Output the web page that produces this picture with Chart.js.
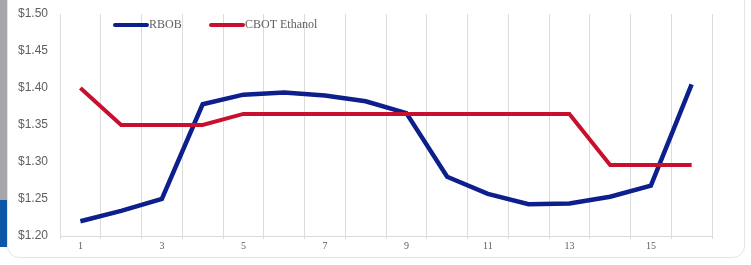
<!DOCTYPE html>
<html>
<head>
<meta charset="utf-8">
<script src="https://cdn.jsdelivr.net/npm/chart.js@4.4.1/dist/chart.umd.min.js"></script>
<style>
  html, body { margin: 0; padding: 0; background: #ffffff; }
  #wrap { position: relative; width: 751px; height: 265px; overflow: hidden; background: #ffffff; }
  .bar-grey { position: absolute; left: 0; top: 0; width: 7px; height: 200px; background: #a7a7ab; }
  .bar-blue { position: absolute; left: 0; top: 200px; width: 7px; height: 47px; background: #0b57a8; }
  .card { position: absolute; left: 7px; top: -20px; width: 738px; height: 278px; background: #fff;
          border: 1px solid #e4e4e4; border-radius: 12px; box-sizing: border-box; }
  canvas { position: absolute; left: 0; top: 0; }
</style>
</head>
<body>
<div id="wrap">
  <div class="bar-grey"></div>
  <div class="bar-blue"></div>
  <div class="card"></div>
  <canvas id="grafico" width="751" height="265"></canvas>
</div>
<script>
// ===== Datos =====
const semanas = ['1','2','3','4','5','6','7','8','9','10','11','12','13','14','15','16'];
const rbob    = [1.220, 1.234, 1.250, 1.378, 1.391, 1.394, 1.390, 1.382, 1.366, 1.280, 1.257, 1.243, 1.244, 1.253, 1.268, 1.405];
const etanol  = [1.400, 1.350, 1.350, 1.350, 1.365, 1.365, 1.365, 1.365, 1.365, 1.365, 1.365, 1.365, 1.365, 1.296, 1.296, 1.296];

const colorRbob = '#0c1f8c';
const colorEtanol = '#c8102e';

// leyenda dentro del area del grafico
const leyendaInterna = {
    id: 'leyendaInterna',
    afterDraw(chart) {
        const ctx = chart.ctx;
        const area = chart.chartArea;
        const items = [
            { texto: 'RBOB', color: colorRbob, x: 55 },
            { texto: 'CBOT Ethanol', color: colorEtanol, x: 151 }
        ];
        const y = area.top + 11;
        ctx.save();
        ctx.font = '12px "Liberation Serif"';
        ctx.textBaseline = 'middle';
        items.forEach(it => {
            ctx.strokeStyle = it.color;
            ctx.lineWidth = 4;
            ctx.lineCap = 'round';
            ctx.beginPath();
            ctx.moveTo(area.left + it.x, y);
            ctx.lineTo(area.left + it.x + 32, y);
            ctx.stroke();
            ctx.fillStyle = '#5f5f5f';
            ctx.fillText(it.texto, area.left + it.x + 34, y);
        });
        ctx.restore();
    }
};

new Chart(document.getElementById('grafico').getContext('2d'), {
    type: 'line',
    data: {
        labels: semanas,
        datasets: [
            {
                label: 'RBOB',
                data: rbob,
                borderColor: colorRbob,
                backgroundColor: colorRbob,
                borderWidth: 4.5,
                pointRadius: 0,
                tension: 0,
                order: 2
            },
            {
                label: 'CBOT Ethanol',
                data: etanol,
                borderColor: colorEtanol,
                backgroundColor: colorEtanol,
                borderWidth: 4,
                pointRadius: 0,
                tension: 0,
                order: 1
            }
        ]
    },
    options: {
        responsive: false,
        animation: false,
        layout: { autoPadding: false, padding: { top: 14, right: 39, left: 0, bottom: 0 } },
        plugins: {
            legend: { display: false },
            tooltip: { enabled: false }
        },
        scales: {
            x: {
                offset: true,
                afterFit: scale => { scale.height = 29; },
                grid: {
                    offset: true,
                    color: '#dcdcdc',
                    lineWidth: 1,
                    tickLength: 3
                },
                border: { color: '#dcdcdc' },
                ticks: {
                    autoSkip: false,
                    maxRotation: 0,
                    padding: 1,
                    color: '#5f5f5f',
                    font: { family: '"Liberation Serif"', size: 10 },
                    callback: (v, i) => (i % 2 === 0 ? semanas[i] : '')
                }
            },
            y: {
                min: 1.2,
                max: 1.5,
                afterFit: scale => { scale.width = 60; },
                // marcas invisibles para separar las etiquetas del eje
                grid: { display: true, drawOnChartArea: false, drawTicks: true, tickLength: 12, color: 'rgba(0,0,0,0)' },
                border: { display: false },
                ticks: {
                    stepSize: 0.05,
                    padding: 0,
                    color: '#5f5f5f',
                    font: { family: '"Liberation Sans"', size: 12 },
                    callback: v => '$' + Number(v).toFixed(2)
                }
            }
        }
    },
    plugins: [leyendaInterna]
});
</script>
</body>
</html>
